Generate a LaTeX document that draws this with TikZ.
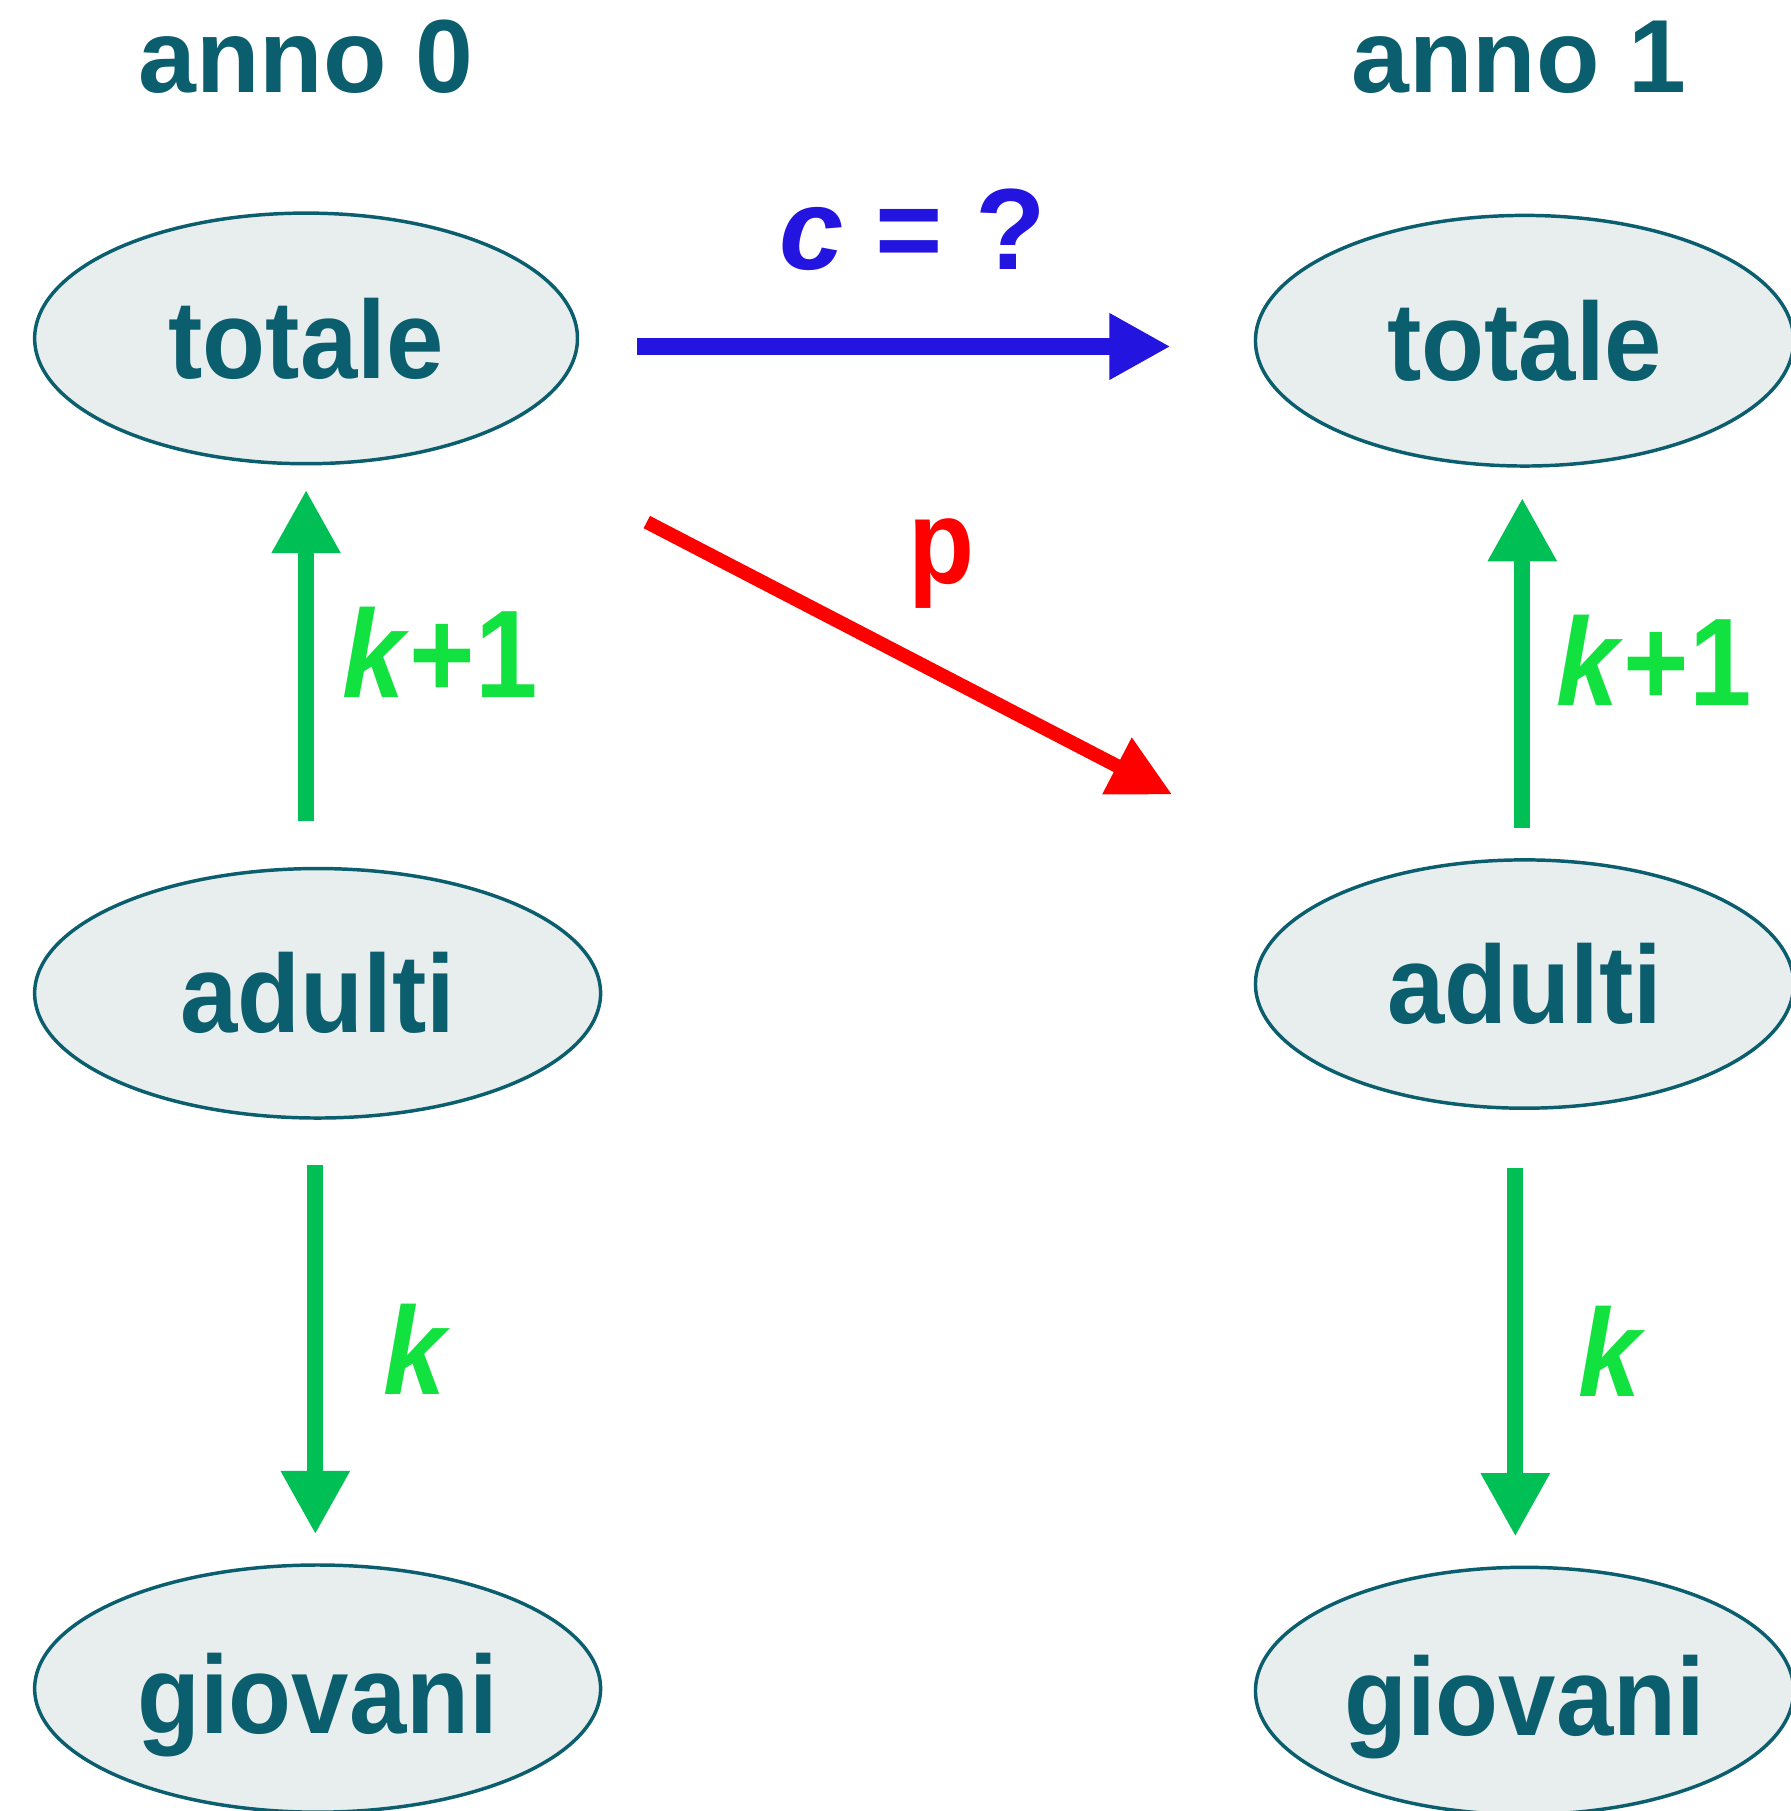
\documentclass[tikz,border=0pt]{standalone}
\usepackage{fontspec}
\setmainfont{Liberation Sans}
\newfontfamily\condfont[FakeStretch=0.93]{Liberation Sans}
\newfontfamily\lblfont[FakeStretch=0.9]{Liberation Sans}
\usetikzlibrary{arrows.meta,shapes.geometric,calc}
\definecolor{tealtxt}{HTML}{0B5E6D}
\definecolor{ellfill}{HTML}{E8EEEE}
\definecolor{arrblue}{HTML}{2414E0}
\definecolor{arrred}{HTML}{FF0000}
\definecolor{arrgreen}{HTML}{00BF55}
\definecolor{lblgreen}{HTML}{12E23F}
\begin{document}
\begin{tikzpicture}[x=0.5pt,y=-0.5pt,
  ell/.style={ellipse, draw=tealtxt, line width=1.5pt, fill=ellfill, inner sep=0pt,
    text=tealtxt, font=\condfont\fontsize{48}{52}\selectfont\bfseries},
  title/.style={text=tealtxt, font=\fontsize{45}{50}\selectfont\bfseries, anchor=base, inner sep=0pt},
  glbl/.style={text=lblgreen, font=\lblfont\fontsize{54}{58}\selectfont\bfseries, anchor=base, inner sep=0pt},
  garrow/.style={draw=arrgreen, line width=7pt, -{Triangle[length=27.5pt,width=28pt]}},
  barrow/.style={draw=arrblue, line width=7pt, -{Triangle[length=26.5pt,width=27pt]}},
  rarrow/.style={draw=arrred, line width=6pt, -{Triangle[length=27pt,width=26pt]}}
]
\useasboundingbox (0,0) rectangle (1550,1568);
% titles
\node[title] (h0) at (265,80) {anno 0};
\node[title] (h1) at (1315,80) {anno 1};
% ellipses
\node[ell, minimum width=235pt, minimum height=108.5pt] (t0) at (265,293) {totale};
\node[ell, minimum width=233pt, minimum height=108.5pt] (t1) at (1320,295) {totale};
\node[ell, minimum width=245pt, minimum height=108pt] (a0) at (275,860) {adulti};
\node[ell, minimum width=233pt, minimum height=107.5pt] (a1) at (1320,852) {adulti};
\node[ell, minimum width=245pt, minimum height=107pt, text depth=0pt] (g0) at (275,1462) {\raisebox{-4pt}{giovani}};
\node[ell, minimum width=233pt, minimum height=107pt, text depth=0pt] (g1) at (1320,1464) {\raisebox{-4pt}{giovani}};
% blue arrow
\draw[barrow, shorten <=25pt, shorten >=36pt] ([yshift=-3.5pt]t0.east) -- ([yshift=-2.5pt]t1.west);
\node[anchor=base, inner sep=0pt, text=arrblue, font=\fontsize{50}{55}\selectfont\bfseries] (clbl) at (790,233) {\textit{c} = ?};
% red arrow
\coordinate (rs) at ($(t0.center)+(295,159)$);
\coordinate (re) at ($(a1.center)+(-305,-164)$);
\draw[rarrow] (rs) -- (re);
\node[anchor=base, inner sep=0pt, text=arrred, font=\lblfont\fontsize{52}{56}\selectfont\bfseries] (plbl) at (815,505) {p};
% green arrows
\draw[garrow, shorten <=20pt, shorten >=10.5pt] (t0.south |- a0.north) -- (t0.south);
\draw[garrow, shorten <=19.5pt, shorten >=12.5pt] ([xshift=-1pt]a0.south) -- ([xshift=-1pt]g0.north);
\draw[garrow, shorten <=13pt, shorten >=13pt] ([xshift=-1pt]a1.north) -- ([xshift=-1pt]t1.south);
\draw[garrow, shorten <=25pt, shorten >=12.5pt] ([xshift=-4pt]a1.south) -- ([xshift=-4pt]g1.north);
% green labels
\node[glbl] (k1a) at (381,604) {\textit{k}+1};
\node[glbl] (k1b) at (1432,611) {\textit{k}+1};
\node[glbl] (ka) at (361,1207) {\textit{k}};
\node[glbl] (kb) at (1396,1209) {\textit{k}};
\end{tikzpicture}
\end{document}
